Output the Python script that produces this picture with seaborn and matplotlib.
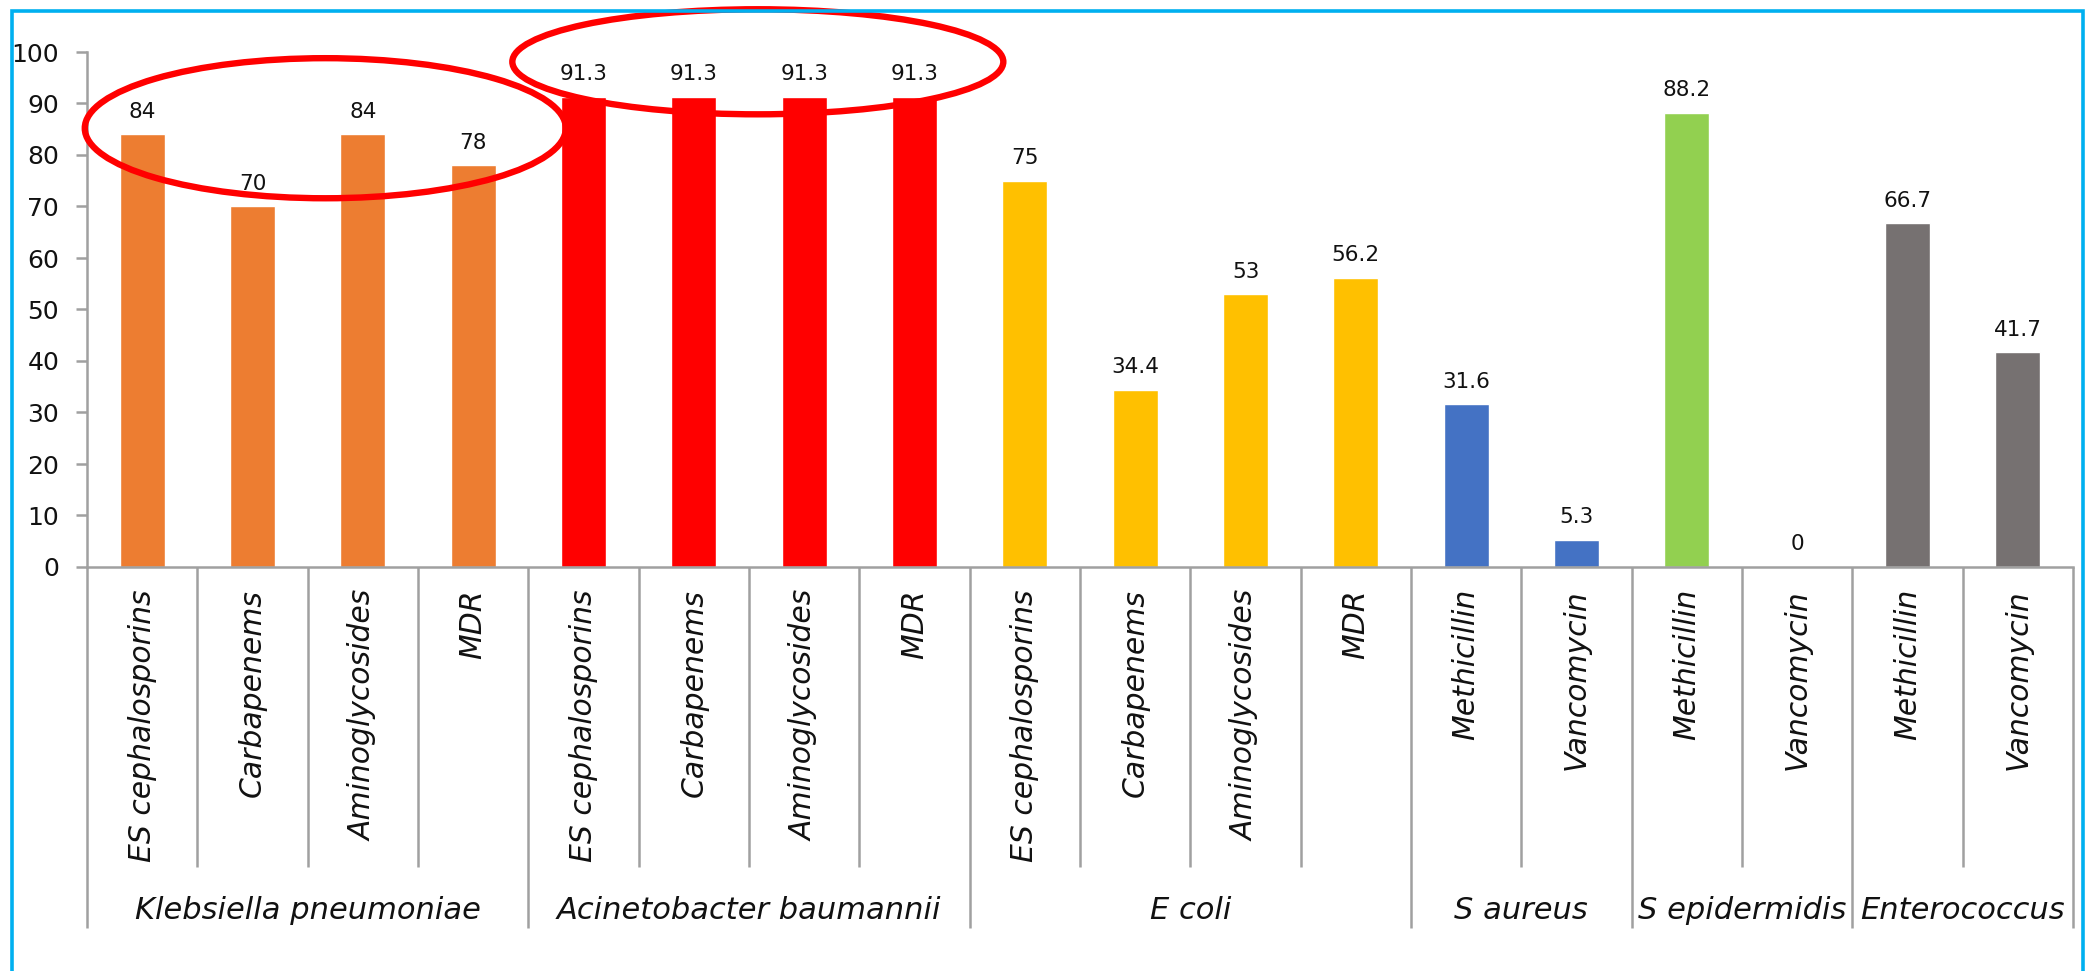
import matplotlib
matplotlib.use("Agg")
import matplotlib.pyplot as plt
import matplotlib.transforms as mtransforms
from matplotlib.patches import Ellipse, Rectangle
import numpy as np
import pandas as pd
import seaborn as sns

# Resistance (%) by organism and antibiotic class
groups = ["Klebsiella pneumoniae", "Acinetobacter baumannii", "E coli",
          "S aureus", "S epidermidis", "Enterococcus"]
drugs_klebsiella = ["ES cephalosporins", "Carbapenems", "Aminoglycosides", "MDR"]
drugs_acinetobacter = ["ES cephalosporins", "Carbapenems", "Aminoglycosides", "MDR"]
drugs_ecoli = ["ES cephalosporins", "Carbapenems", "Aminoglycosides", "MDR"]
drugs_saureus = ["Methicillin", "Vancomycin"]
drugs_sepidermidis = ["Methicillin", "Vancomycin"]
drugs_enterococcus = ["Methicillin", "Vancomycin"]

values_klebsiella = [84, 70, 84, 78]
values_acinetobacter = [91.3, 91.3, 91.3, 91.3]
values_ecoli = [75, 34.4, 53, 56.2]
values_saureus = [31.6, 5.3]
values_sepidermidis = [88.2, 0]
values_enterococcus = [66.7, 41.7]

value_labels = ["84", "70", "84", "78", "91.3", "91.3", "91.3", "91.3",
                "75", "34.4", "53", "56.2", "31.6", "5.3", "88.2", "0",
                "66.7", "41.7"]

group_colors = ["#ED7D31", "#FF0000", "#FFC000", "#4472C4", "#92D050", "#767171"]
yticks = [0, 10, 20, 30, 40, 50, 60, 70, 80, 90, 100]

all_drugs = [drugs_klebsiella, drugs_acinetobacter, drugs_ecoli,
             drugs_saureus, drugs_sepidermidis, drugs_enterococcus]
all_values = [values_klebsiella, values_acinetobacter, values_ecoli,
              values_saureus, values_sepidermidis, values_enterococcus]

rows = []
for g, ds, vs in zip(groups, all_drugs, all_values):
    for d, v in zip(ds, vs):
        rows.append({"group": g, "drug": d, "key": f"{g}|{d}", "value": v})
df = pd.DataFrame(rows)

sns.set_theme(style="white")
plt.rcParams["font.family"] = ["DejaVu Sans"]
plt.rcParams["axes.unicode_minus"] = False

W, H, DPI = 2090, 971, 100
fig = plt.figure(figsize=(W / DPI, H / DPI), dpi=DPI)
fig.patch.set_facecolor("white")

# Outer frame (its lower edge runs past the bottom of the canvas)
fig.patches.append(Rectangle((12 / W, -20 / H), 2071 / W, (971 - 11 + 20) / H,
                             transform=fig.transFigure, fill=False,
                             edgecolor="#00B0F0", linewidth=2.6, zorder=0))

ax = fig.add_axes([87 / W, 1 - 567 / H, (2073 - 87) / W, (567 - 52) / H])

sns.barplot(data=df, x="key", y="value", hue="group", order=df["key"],
            hue_order=groups, palette=group_colors, dodge=False,
            width=0.41, saturation=1, legend=False, ax=ax)

ax.set_xlim(-0.5, len(df) - 0.5)
ax.set_ylim(0, 100)
ax.set_yticks(yticks)
ax.set_yticklabels([str(t) for t in yticks], fontsize=18, color="#111111")
ax.set_xlabel("")
ax.set_ylabel("")

axis_grey = "#A0A0A0"
for side in ["top", "right"]:
    ax.spines[side].set_visible(False)
ax.spines["left"].set_color(axis_grey)
ax.spines["bottom"].set_color(axis_grey)
ax.spines["left"].set_linewidth(1.8)
ax.spines["bottom"].set_linewidth(1.8)
ax.tick_params(axis="y", left=True, length=8, width=1.8, color=axis_grey, pad=12)
ax.tick_params(axis="x", bottom=False, labelbottom=False)

# Bar value labels
for i, (v, lab) in enumerate(zip(df["value"], value_labels)):
    ax.annotate(lab, (i, v), xytext=(0, 9), textcoords="offset points",
                ha="center", va="bottom", fontsize=15.5, color="#111111")

# Two-level category axis
trans = mtransforms.blended_transform_factory(ax.transData, ax.transAxes)
inner_bottom, outer_bottom = -0.5825, -0.701
for i, d in enumerate(df["drug"]):
    ax.text(i, -0.043, d, transform=trans, rotation=90, ha="center", va="top",
            fontsize=21.5, style="italic", color="#111111")

boundaries = np.cumsum([0] + [len(v) for v in all_values])
group_edges = set(boundaries.tolist())
for b in range(len(df) + 1):
    x = b - 0.5
    y1 = outer_bottom if b in group_edges else inner_bottom
    ax.plot([x, x], [0, y1], transform=trans, color=axis_grey, lw=1.8,
            clip_on=False, solid_capstyle="butt")

for g, s, e in zip(groups, boundaries[:-1], boundaries[1:]):
    ax.text((s + e - 1) / 2, -0.684, g, transform=trans, ha="center",
            va="baseline", fontsize=22, style="italic", color="#111111")

# Highlight ellipses
ax.add_patch(Ellipse((1.66, 85.2), 4.36, 27.2, fill=False, edgecolor="#FF0000",
                     linewidth=4.6, clip_on=False, zorder=5))
ax.add_patch(Ellipse((5.58, 98.1), 4.45, 20.4, fill=False, edgecolor="#FF0000",
                     linewidth=4.6, clip_on=False, zorder=5))

fig.savefig("out.png", dpi=DPI)
